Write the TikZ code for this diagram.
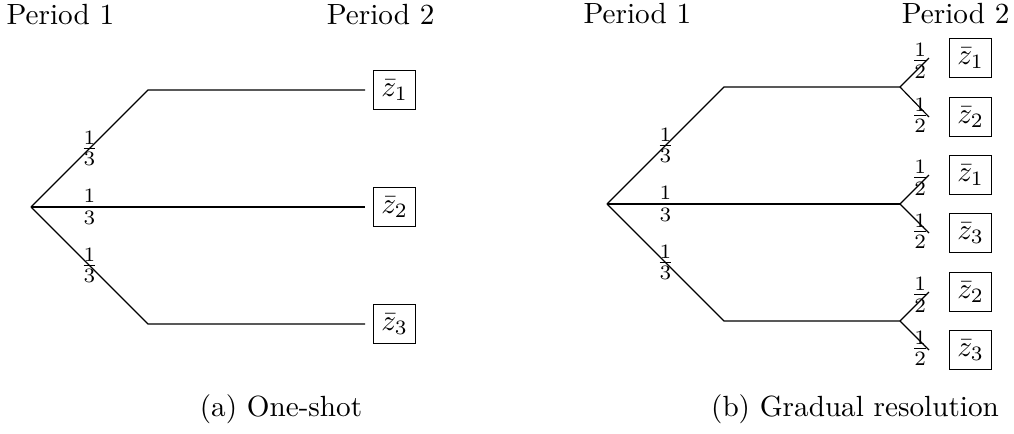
\documentclass[tikz,border=0pt]{standalone}
\usepackage{tikz}
\usetikzlibrary{positioning}

\begin{document}
\begin{tikzpicture}[x=0.3425pt, y=-0.3425pt]
\tikzstyle{payoff} = [rectangle, draw, inner xsep=2.7pt, inner ysep=3.2pt]
\tikzstyle{prob} = [inner sep=0pt]
\tikzstyle{period} = [anchor=base, inner sep=0pt]

\useasboundingbox (0,0) rectangle (1014,434);

% (a) one-shot
\node (lp1) [period, anchor=base west] at (6,24) {Period 1};
\node (lp2) [period, anchor=base east] at (435,24) {Period 2};

\coordinate (l0) at (31,207);
\coordinate (l1) at (148,90);
\coordinate (l2) at (148,207);
\coordinate (l3) at (148,324);
\coordinate (l1e) at (365,90);
\coordinate (l2e) at (365,207);
\coordinate (l3e) at (365,324);

\draw (l0) -- node[prob] {$\frac{1}{3}$} (l1) -- (l1e);
\draw (l0) -- node[prob] {$\frac{1}{3}$} (l2) -- (l2e);
\draw (l0) -- node[prob] {$\frac{1}{3}$} (l3) -- (l3e);

\node (lz1) [payoff, right=2.7pt of l1e] {$\bar{z}_1$};
\node (lz2) [payoff, right=2.7pt of l2e] {$\bar{z}_2$};
\node (lz3) [payoff, right=2.7pt of l3e] {$\bar{z}_3$};

\node (capa) [period] at (281,416) {(a) One-shot};

% (b) gradual resolution
\node (rp1) [period, anchor=base west] at (583,23) {Period 1};
\node (rp2) [period, anchor=base east] at (1010,23) {Period 2};

\coordinate (r0) at (607,204);
\coordinate (r1) at (724,87);
\coordinate (r2) at (724,204);
\coordinate (r3) at (724,321);
\coordinate (r1e) at (900,87);
\coordinate (r2e) at (900,204);
\coordinate (r3e) at (900,321);

\draw (r0) -- node[prob] {$\frac{1}{3}$} (r1) -- (r1e);
\draw (r0) -- node[prob] {$\frac{1}{3}$} (r2) -- (r2e);
\draw (r0) -- node[prob] {$\frac{1}{3}$} (r3) -- (r3e);

\coordinate (r1a) at (929,58);
\coordinate (r1b) at (929,117);
\coordinate (r2a) at (929,175);
\coordinate (r2b) at (929,233);
\coordinate (r3a) at (929,292);
\coordinate (r3b) at (929,350);

\foreach \s in {1,2,3} {
  \draw (r\s e) -- node[prob, pos=0.7, yshift=2pt] {$\frac{1}{2}$} (r\s a);
  \draw (r\s e) -- node[prob, pos=0.7, yshift=-2.5pt] {$\frac{1}{2}$} (r\s b);
}

\node (rz1a) [payoff, right=6.8pt of r1a] {$\bar{z}_1$};
\node (rz1b) [payoff, right=6.8pt of r1b] {$\bar{z}_2$};
\node (rz2a) [payoff, right=6.8pt of r2a] {$\bar{z}_1$};
\node (rz2b) [payoff, right=6.8pt of r2b] {$\bar{z}_3$};
\node (rz3a) [payoff, right=6.8pt of r3a] {$\bar{z}_2$};
\node (rz3b) [payoff, right=6.8pt of r3b] {$\bar{z}_3$};

\node (capb) [period] at (855,416) {(b) Gradual resolution};

\end{tikzpicture}
\end{document}
